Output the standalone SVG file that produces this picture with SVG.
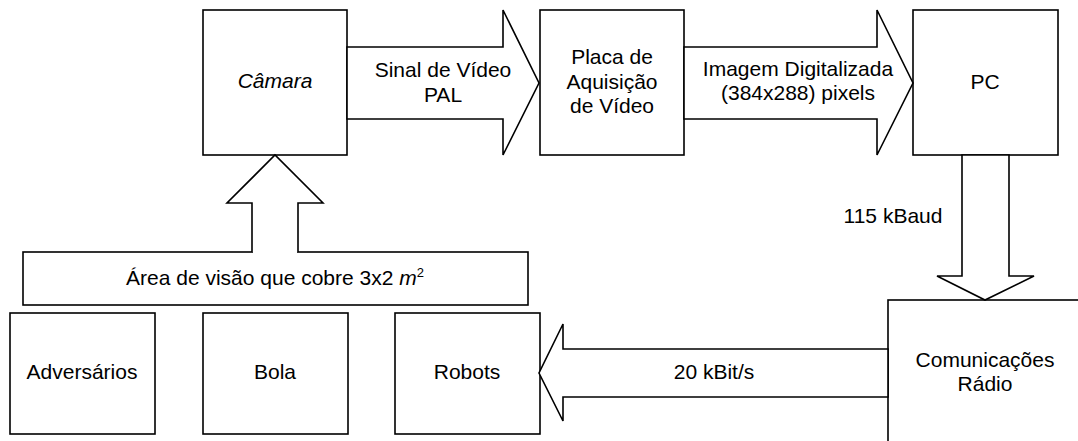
<svg xmlns="http://www.w3.org/2000/svg" width="1078" height="441" viewBox="0 0 1078 441">
<style>
.box{fill:#fff;stroke:#000;stroke-width:1.6}
.arr{fill:#fff;stroke:#000;stroke-width:1.6;stroke-linejoin:miter}
.t{font-family:"Liberation Sans",Arial,sans-serif;font-size:21px;fill:#000;text-anchor:middle}
.i{font-style:italic}
</style>
<rect width="1078" height="441" fill="#fff"/>
<g id="camara"><rect class="box" x="203" y="10" width="144" height="145"/><text class="t i" x="275" y="88">Câmara</text></g>
<g id="placa"><rect class="box" x="540" y="10" width="144" height="145"/><text class="t" x="612" y="64">Placa de</text><text class="t" x="612" y="89">Aquisição</text><text class="t" x="612" y="113">de Vídeo</text></g>
<g id="pc"><rect class="box" x="913" y="10" width="145" height="145"/><text class="t" x="985" y="89">PC</text></g>
<g id="area"><rect class="box" x="23" y="252" width="505" height="53"/><text class="t" x="275" y="285">Área de visão que cobre 3x2 <tspan class="i">m</tspan><tspan font-size="13" dy="-8">2</tspan></text></g>
<g id="adversarios"><rect class="box" x="10" y="313" width="145" height="121"/><text class="t" x="82" y="379">Adversários</text></g>
<g id="bola"><rect class="box" x="203" y="313" width="145" height="121"/><text class="t" x="275" y="379">Bola</text></g>
<g id="robots"><rect class="box" x="395" y="313" width="145" height="121"/><text class="t" x="467" y="379">Robots</text></g>
<g id="comunicacoes"><rect class="box" x="888" y="300" width="200" height="160"/><text class="t" x="985" y="367">Comunicações</text><text class="t" x="985" y="391">Rádio</text></g>
<g id="connectors">
<polygon points="347,47 503,47 503,10 539,83 503,155 503,119 347,119" class="arr"/>
<text class="t" x="443" y="77">Sinal de Vídeo</text><text class="t" x="443" y="102">PAL</text>
<polygon points="684,47 877,47 877,10 913,83 877,155 877,119 684,119" class="arr"/>
<text class="t" x="798" y="76">Imagem Digitalizada</text><text class="t" x="798" y="100">(384x288) pixels</text>
<polygon points="962,155 962,276 937,276 985,300 1034,276 1009,276 1009,155" class="arr"/>
<text class="t" x="893" y="223">115 kBaud</text>
<polygon points="888,349 563,349 563,324 539,373 563,421 563,397 888,397" class="arr"/>
<text class="t" x="714" y="379">20 kBit/s</text>
<polygon points="253,254 253,203 297,203 297,254" fill="#fff" stroke="none"/>
<polyline points="252,252 252,203 227,203 275,155 323,203 298,203 298,252" class="arr"/>
</g>
</svg>
